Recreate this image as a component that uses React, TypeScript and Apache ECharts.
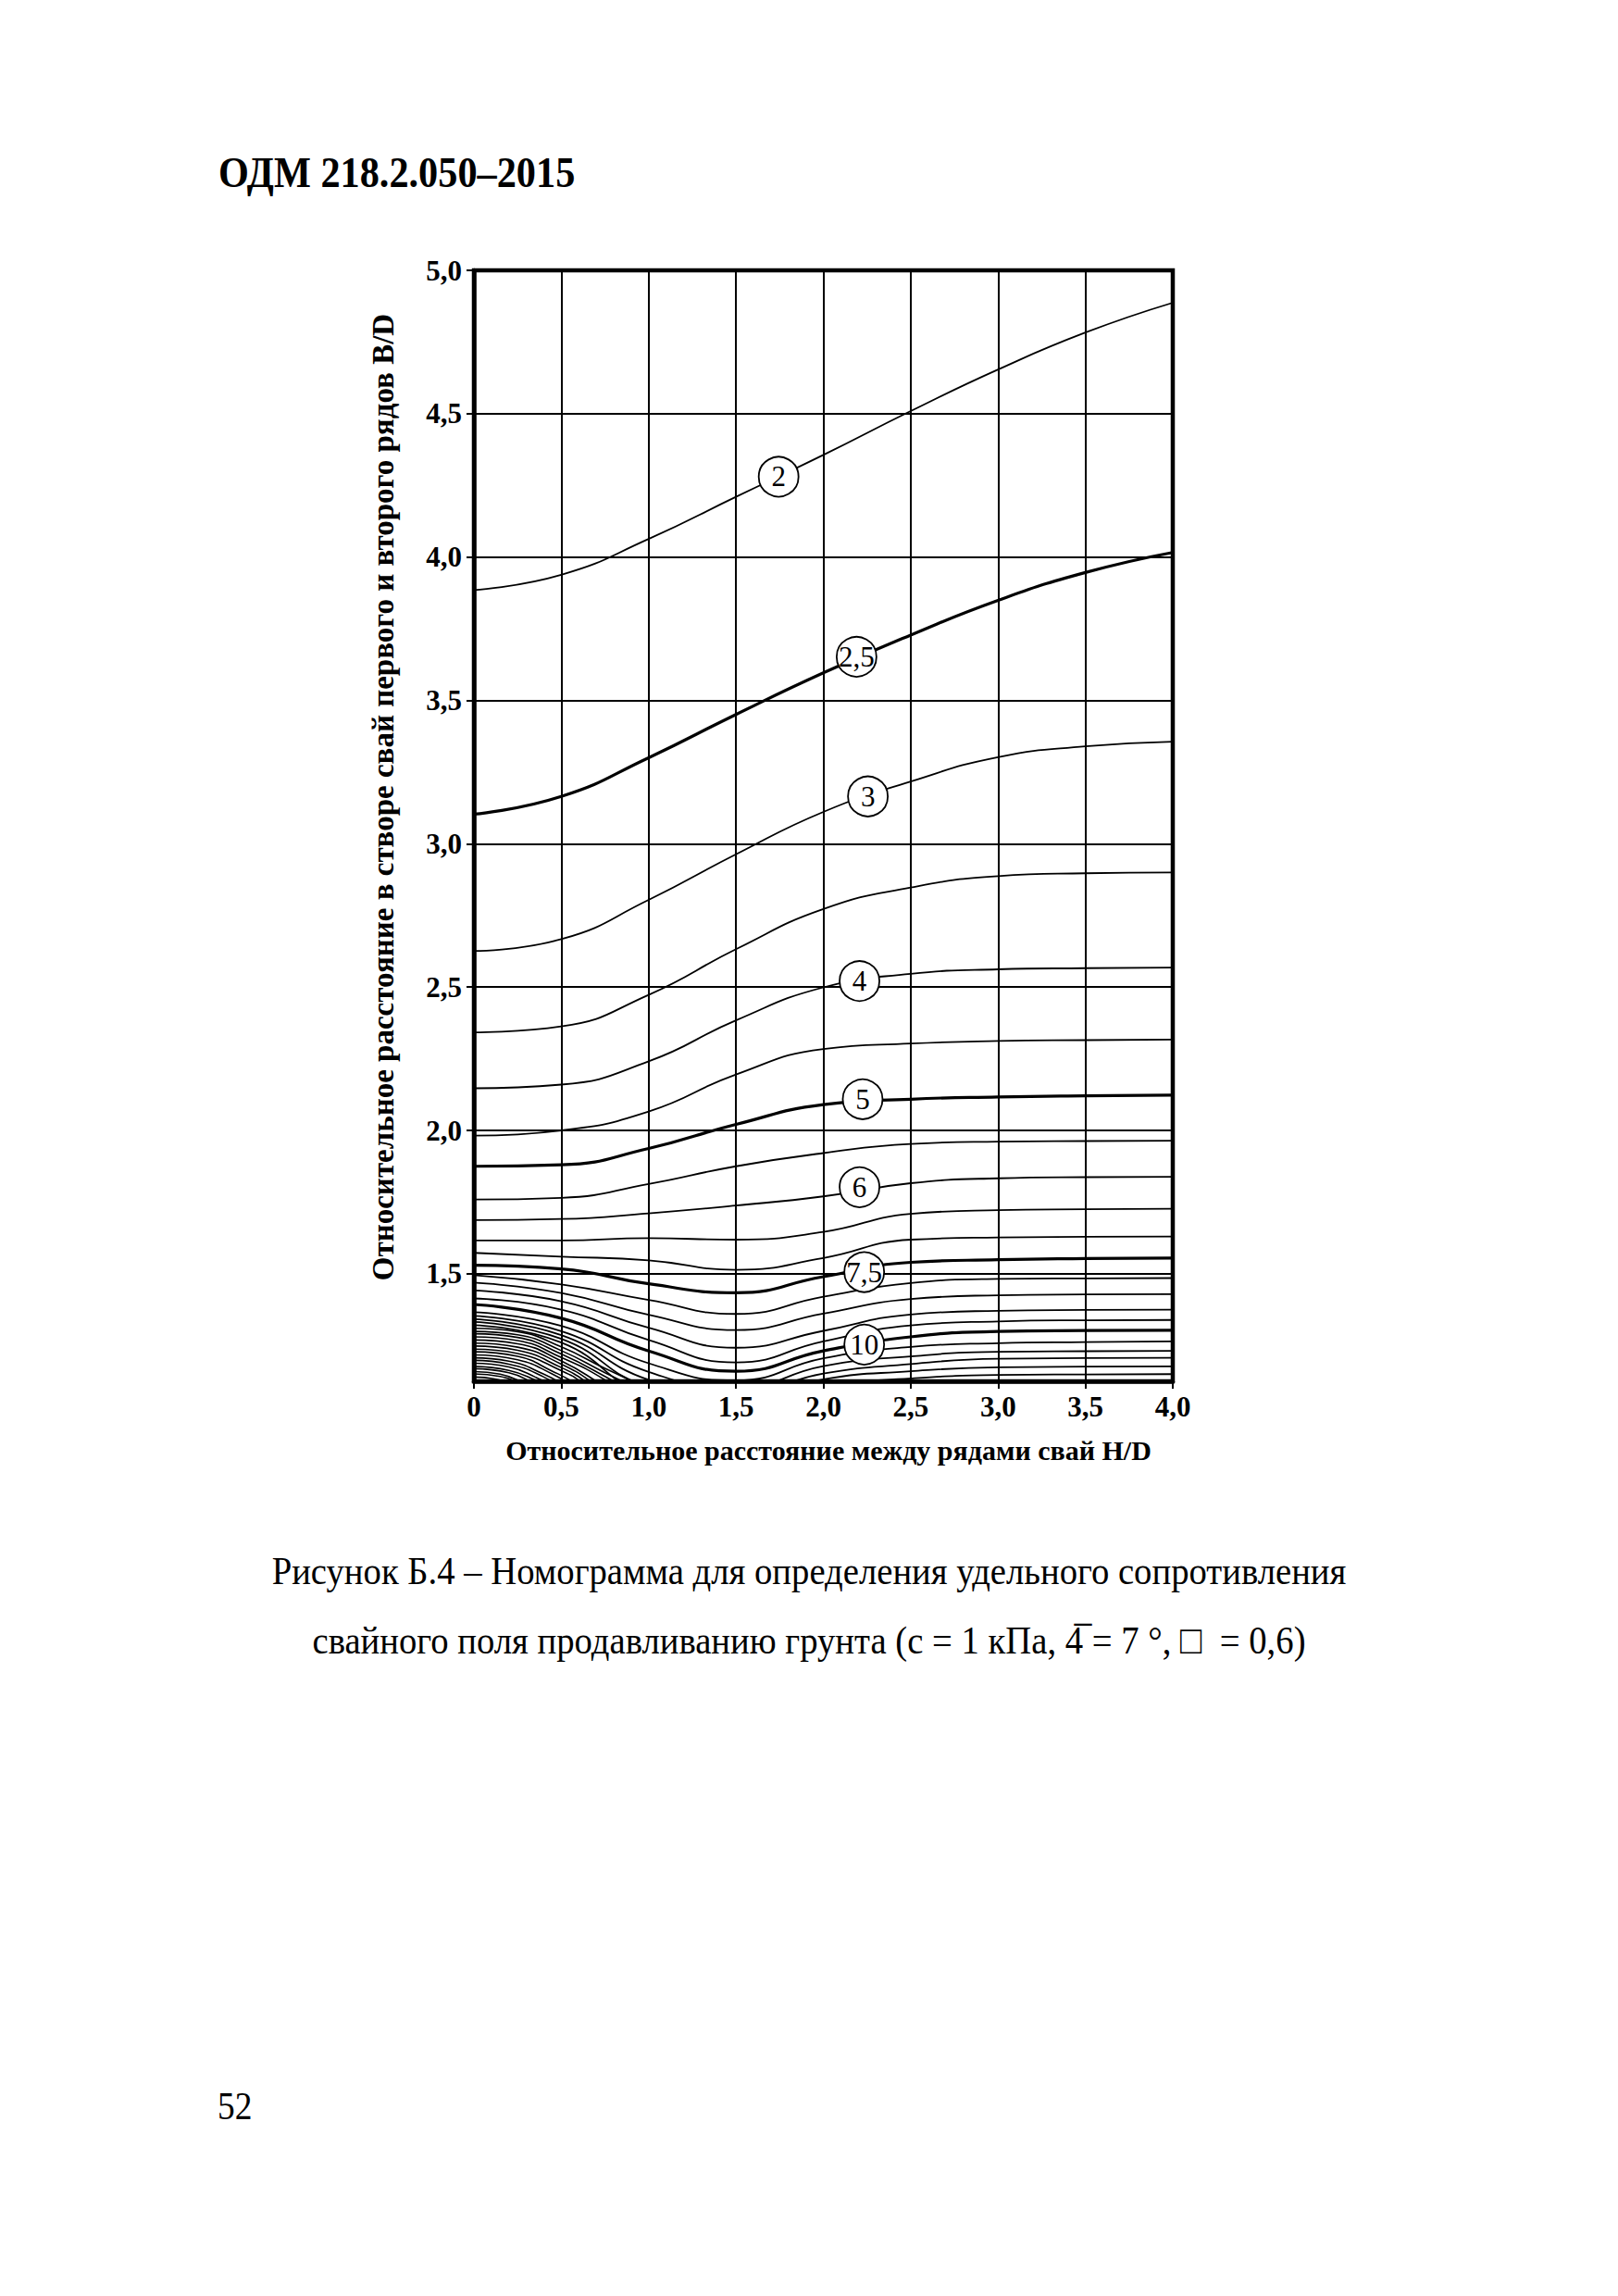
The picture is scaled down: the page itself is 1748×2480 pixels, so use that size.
import { useEffect, useRef } from 'react';
import * as echarts from 'echarts';

const FONT = '"Liberation Serif", "Times New Roman", serif';

// ---- axes ----
const X_HALF = [0, 0.5, 1.0, 1.5, 2.0, 2.5, 3.0, 3.5, 4.0];
const Y_GRID = [1.5, 2.0, 2.5, 3.0, 3.5, 4.0, 4.5];
const Y_TICKS = [1.5, 2.0, 2.5, 3.0, 3.5, 4.0, 4.5, 5.0];
const Y_MIN = 1.125;
const Y_MAX = 5.0;

// ---- contour curves: B/D read at X_HALF ----
const C_2 = [3.885, 3.938, 4.063, 4.21, 4.356, 4.509, 4.654, 4.783, 4.887];
const C_2_5 = [3.103, 3.165, 3.3, 3.451, 3.596, 3.728, 3.849, 3.946, 4.016];
const C_3 = [2.626, 2.667, 2.804, 2.963, 3.111, 3.217, 3.302, 3.34, 3.356];
const C_3_5 = [2.342, 2.363, 2.473, 2.632, 2.772, 2.847, 2.887, 2.897, 2.9];
const C_4 = [2.147, 2.16, 2.241, 2.384, 2.499, 2.546, 2.562, 2.566, 2.568];
const C_4_5 = [1.982, 2.0, 2.066, 2.195, 2.284, 2.303, 2.312, 2.315, 2.317];
const C_5 = [1.875, 1.88, 1.937, 2.021, 2.09, 2.109, 2.117, 2.121, 2.123];
const C_5_5 = [1.759, 1.765, 1.813, 1.875, 1.921, 1.953, 1.961, 1.963, 1.964];
const C_6 = [1.687, 1.691, 1.711, 1.738, 1.77, 1.816, 1.833, 1.837, 1.838];
const C_6_5 = [1.616, 1.616, 1.624, 1.619, 1.646, 1.709, 1.722, 1.725, 1.727];
const C_7 = [1.573, 1.56, 1.547, 1.514, 1.555, 1.619, 1.627, 1.629, 1.63];
const C_7_5 = [1.53, 1.517, 1.465, 1.434, 1.49, 1.54, 1.549, 1.553, 1.555];
const C_8 = [1.495, 1.463, 1.409, 1.36, 1.42, 1.468, 1.482, 1.484, 1.485];
const C_8_5 = [1.469, 1.433, 1.357, 1.304, 1.361, 1.412, 1.425, 1.428, 1.429];
const C_9 = [1.442, 1.404, 1.312, 1.242, 1.301, 1.358, 1.371, 1.374, 1.375];
const C_9_5 = [1.414, 1.375, 1.269, 1.191, 1.264, 1.32, 1.334, 1.338, 1.339];
const C_10 = [1.393, 1.345, 1.231, 1.16, 1.231, 1.28, 1.299, 1.302, 1.303];
const C_10_5 = [1.366, 1.318, 1.188, 1.128, 1.205, 1.245, 1.258, 1.262, 1.264];
const C_11 = [1.353, 1.3, 1.158, 1.1, 1.178, 1.212, 1.228, 1.23, 1.231];
const C_11_5 = [1.342, 1.286, 1.13, 1.08, 1.152, 1.185, 1.204, 1.206, 1.207];
const C_12 = [1.332, 1.273, 1.105, 1.06, 1.132, 1.16, 1.174, 1.176, 1.177];
const C_12_5 = [1.321, 1.26, 1.08, 1.04, 1.108, 1.135, 1.147, 1.149, 1.15];

const BOLD_CURVES = ['2,5', '5', '7,5', '10'];
const CURVE_NAMES = ['2', '2,5', '3', '3,5', '4', '4,5', '5', '5,5', '6', '6,5', '7', '7,5', '8', '8,5', '9', '9,5', '10', '10,5', '11', '11,5', '12', '12,5'];
const CURVE_VALUES = [C_2, C_2_5, C_3, C_3_5, C_4, C_4_5, C_5, C_5_5, C_6, C_6_5, C_7, C_7_5, C_8, C_8_5, C_9, C_9_5, C_10, C_10_5, C_11, C_11_5, C_12, C_12_5];

// ---- dense corner arcs (x, B/D) ----
const A_13 = [[0, 1.31], [0.25, 1.298], [0.5, 1.245], [0.75, 1.17], [1.0, 1.1]];
const A_13_5 = [[0, 1.299], [0.25, 1.287], [0.5, 1.232], [0.75, 1.155], [1.0, 1.08]];
const A_14 = [[0, 1.291], [0.25, 1.278], [0.5, 1.22], [0.75, 1.142], [0.95, 1.07]];
const A_14_5 = [[0, 1.28], [0.25, 1.267], [0.5, 1.208], [0.75, 1.13], [0.9, 1.06]];
const A_15 = [[0, 1.269], [0.25, 1.256], [0.5, 1.196], [0.7, 1.125], [0.85, 1.06]];
const A_15_5 = [[0, 1.258], [0.25, 1.244], [0.5, 1.185], [0.68, 1.12], [0.8, 1.06]];
const A_16 = [[0, 1.248], [0.25, 1.233], [0.5, 1.173], [0.65, 1.12], [0.77, 1.06]];
const A_16_5 = [[0, 1.237], [0.25, 1.222], [0.5, 1.162], [0.62, 1.12], [0.73, 1.06]];
const A_17 = [[0, 1.228], [0.25, 1.212], [0.45, 1.16], [0.6, 1.11], [0.7, 1.06]];
const A_17_5 = [[0, 1.217], [0.25, 1.2], [0.45, 1.15], [0.57, 1.105], [0.66, 1.06]];
const A_18 = [[0, 1.207], [0.2, 1.195], [0.4, 1.15], [0.53, 1.105], [0.62, 1.06]];
const A_18_5 = [[0, 1.198], [0.2, 1.185], [0.4, 1.14], [0.5, 1.1], [0.58, 1.06]];
const A_19 = [[0, 1.188], [0.2, 1.175], [0.35, 1.14], [0.47, 1.1], [0.55, 1.06]];
const A_19_5 = [[0, 1.177], [0.2, 1.163], [0.35, 1.13], [0.44, 1.1], [0.5, 1.06]];
const A_20 = [[0, 1.169], [0.2, 1.155], [0.32, 1.125], [0.4, 1.09], [0.46, 1.06]];
const A_20_5 = [[0, 1.159], [0.15, 1.15], [0.28, 1.12], [0.36, 1.09], [0.42, 1.06]];
const A_21 = [[0, 1.151], [0.15, 1.142], [0.25, 1.12], [0.32, 1.09], [0.38, 1.06]];
const A_21_5 = [[0, 1.14], [0.12, 1.133], [0.2, 1.115], [0.28, 1.08]];
const ARCS = [A_13, A_13_5, A_14, A_14_5, A_15, A_15_5, A_16, A_16_5, A_17, A_17_5, A_18, A_18_5, A_19, A_19_5, A_20, A_20_5, A_21, A_21_5];

// ---- circled curve labels ----
const LABEL_TEXT = ['2', '2,5', '3', '4', '5', '6', '7,5', '10'];
const LABEL_X = [1.744, 2.19, 2.255, 2.207, 2.225, 2.207, 2.234, 2.234];
const LABEL_Y = [4.28, 3.652, 3.165, 2.521, 2.109, 1.802, 1.506, 1.253];

// ---- texts ----
const HEADER = 'ОДМ 218.2.050–2015';
const Y_NAME = 'Относительное расстояние в створе свай первого и второго рядов B/D';
const X_NAME = 'Относительное расстояние между рядами свай H/D';
const CAPTION_1 = 'Рисунок Б.4 – Номограмма для определения удельного сопротивления';
const CAPTION_2 = 'свайного поля продавливанию грунта (с = 1 кПа, 4\u0305 = 7 °, \u25A1  = 0,6)';
const PAGE_NO = '52';

const fmt = (v: number) => (v === 0 ? '0' : v.toFixed(1).replace('.', ','));

export default function App() {
  const ref = useRef<HTMLDivElement>(null);

  useEffect(() => {
    if (!ref.current) return;
    const chart = echarts.init(ref.current, null, { renderer: 'svg' });

    const curveSeries: any[] = CURVE_VALUES.map((ys, i) => ({
      type: 'line',
      name: CURVE_NAMES[i],
      data: X_HALF.map((x, j) => [x, ys[j]]),
      smooth: 0.5,
      showSymbol: false,
      symbol: 'none',
      silent: true,
      clip: true,
      z: 3,
      lineStyle: { color: '#000', width: BOLD_CURVES.includes(CURVE_NAMES[i]) ? 3.2 : 1.8 },
    }));

    curveSeries[0].markLine = {
      silent: true,
      symbol: ['none', 'none'],
      label: { show: false },
      lineStyle: { color: '#000', width: 2, type: 'solid' },
      data: Y_GRID.map((v) => ({ yAxis: v })),
    };

    const arcSeries = ARCS.map((pts) => ({
      type: 'line',
      data: pts,
      smooth: 0.5,
      showSymbol: false,
      symbol: 'none',
      silent: true,
      clip: true,
      z: 3,
      lineStyle: { color: '#000', width: 1.6 },
    }));

    const labelSeries = {
      type: 'scatter',
      data: LABEL_X.map((x, i) => [x, LABEL_Y[i]]),
      symbol: 'circle',
      symbolSize: 43,
      silent: true,
      z: 10,
      itemStyle: { color: '#fff', borderColor: '#000', borderWidth: 1.8, opacity: 1 },
      label: {
        show: true,
        position: 'inside',
        formatter: (p: any) => LABEL_TEXT[p.dataIndex],
        color: '#000',
        fontFamily: FONT,
        fontSize: 31,
      },
    };

    const option: any = {
      animation: false,
      backgroundColor: '#fff',
      grid: {
        left: 512,
        top: 292,
        width: 755,
        height: 1200,
        show: true,
        borderColor: '#000',
        borderWidth: 4.5,
        backgroundColor: 'transparent',
        z: 4,
      },
      xAxis: {
        type: 'value',
        min: 0,
        max: 4,
        interval: 0.5,
        axisLine: { show: true, lineStyle: { color: '#000', width: 4.5 } },
        axisTick: { show: true, inside: false, length: 8, lineStyle: { color: '#000', width: 2 } },
        axisLabel: { formatter: fmt, color: '#000', fontFamily: FONT, fontWeight: 'bold', fontSize: 31, margin: 12 },
        splitLine: { show: true, lineStyle: { color: '#000', width: 2 } },
      },
      yAxis: {
        type: 'value',
        min: Y_MIN,
        max: Y_MAX,
        axisLine: { show: true, lineStyle: { color: '#000', width: 4.5 } },
        axisTick: { show: true, inside: false, length: 8, customValues: Y_TICKS, lineStyle: { color: '#000', width: 2 } },
        axisLabel: { customValues: Y_TICKS, formatter: fmt, color: '#000', fontFamily: FONT, fontWeight: 'bold', fontSize: 31, margin: 13 },
        splitLine: { show: false },
      },
      graphic: [
        {
          type: 'text', x: 236, y: 186, scaleX: 0.9,
          style: { text: HEADER, fontFamily: FONT, fontWeight: 'bold', fontSize: 47, fill: '#000', align: 'left', verticalAlign: 'middle' },
        },
        {
          type: 'text', x: 414, y: 861, rotation: Math.PI / 2,
          style: { text: Y_NAME, fontFamily: FONT, fontWeight: 'bold', fontSize: 33, fill: '#000', align: 'center', verticalAlign: 'middle' },
        },
        {
          type: 'text', x: 895, y: 1566,
          style: { text: X_NAME, fontFamily: FONT, fontWeight: 'bold', fontSize: 30, fill: '#000', align: 'center', verticalAlign: 'middle' },
        },
        {
          type: 'text', x: 874, y: 1697, scaleX: 0.9,
          style: { text: CAPTION_1, fontFamily: FONT, fontSize: 43, fill: '#000', align: 'center', verticalAlign: 'middle' },
        },
        {
          type: 'text', x: 874, y: 1772, scaleX: 0.9,
          style: { text: CAPTION_2, fontFamily: FONT, fontSize: 43, fill: '#000', align: 'center', verticalAlign: 'middle' },
        },
        {
          type: 'text', x: 235, y: 2275, scaleX: 0.87,
          style: { text: PAGE_NO, fontFamily: FONT, fontSize: 43, fill: '#000', align: 'left', verticalAlign: 'middle' },
        },
      ],
      series: [...curveSeries, ...arcSeries, labelSeries],
    };

    chart.setOption(option);
    return () => chart.dispose();
  }, []);

  return (
    <div
      ref={ref}
      style={{ position: 'absolute', left: 0, top: 0, width: 1748, height: 2480, background: '#fff' }}
    />
  );
}
